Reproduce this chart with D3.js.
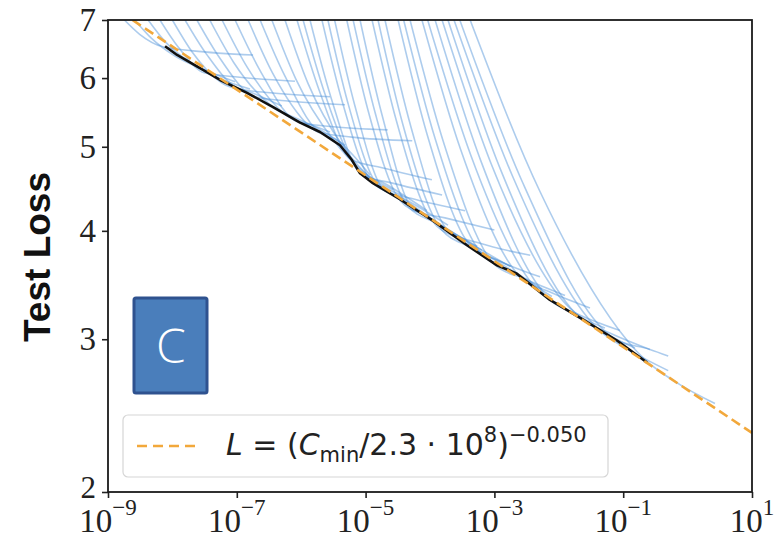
<!DOCTYPE html>
<html><head><meta charset="utf-8">
<script src="https://cdn.jsdelivr.net/npm/d3@7/dist/d3.min.js"></script>
<style>body{margin:0;background:#fff}svg{display:block}</style>
</head><body>
<svg id="chart" width="780" height="538"></svg>
<script>
// ---- data ----
const xTickExponents = [-9, -7, -5, -3, -1, 1];
const yTickValues = [2, 3, 4, 5, 6, 7];

// compute-efficient frontier (black)
const frontierC = [7.7e-9, 1.18e-8, 2.68e-8, 5.5e-8, 1.44e-7, 3.6e-7, 9.6e-7, 1.96e-6, 4.0e-6, 6.1e-6, 8.2e-6, 1.3e-5, 3.4e-5, 1.11e-4, 3.75e-4, 1.1e-3, 2.24e-3, 7.3e-3, 2.38e-2, 8.0e-2, 0.234];
const frontierL = [6.53, 6.38, 6.16, 5.97, 5.77, 5.56, 5.33, 5.20, 5.02, 4.83, 4.66, 4.54, 4.35, 4.11, 3.85, 3.65, 3.57, 3.33, 3.16, 2.99, 2.82];

// power-law fit (orange dashed), L = (C/2.3e8)^-0.050
const fitC = [2.4e-9, 10];
const fitL = [7.0, 2.34];
const fitLabel = { coef: "2.3", exp10: "8", power: "\u22120.050" };

// individual training runs (blue), [compute, loss]
const runs = [
  [[1.8e-9,7.0],[3.1e-9,6.74],[7.1e-9,6.52],[2.1e-8,6.45],[1.79e-7,6.38]],
  [[2.6e-9,7.0],[4.7e-9,6.67],[1.1e-8,6.36],[3.2e-8,6.13],[9.4e-8,5.94]],
  [[4.2e-9,7.0],[7.7e-9,6.61],[1.9e-8,6.25],[5.5e-8,5.99],[1.6e-7,5.83]],
  [[6.4e-9,7.0],[1.22e-8,6.52],[3.2e-8,6.08],[9.4e-8,6.02],[8.0e-7,5.95]],
  [[1.0e-8,7.0],[2.0e-8,6.44],[5.9e-8,5.92],[1.72e-7,5.77],[5.0e-7,5.57]],
  [[1.57e-8,7.0],[3.4e-8,6.39],[1.12e-7,5.83],[3.3e-7,5.77],[2.8e-6,5.71]],
  [[2.4e-8,7.0],[5.5e-8,6.32],[1.9e-7,5.71],[5.6e-7,5.65],[4.8e-6,5.59]],
  [[3.8e-8,7.0],[9.0e-8,6.25],[3.3e-7,5.59],[9.6e-7,5.37],[2.8e-6,5.20]],
  [[5.9e-8,7.0],[1.44e-7,6.18],[5.6e-7,5.45],[1.64e-6,5.27],[4.8e-6,5.02]],
  [[9.4e-8,7.0],[2.3e-7,6.12],[8.9e-7,5.34],[2.6e-6,5.28],[2.2e-5,5.23]],
  [[1.5e-7,7.0],[3.6e-7,6.08],[1.37e-6,5.27],[4.0e-6,5.06],[1.17e-5,4.64]],
  [[2.3e-7,7.0],[5.6e-7,6.03],[2.1e-6,5.19],[6.1e-6,5.13],[5.3e-5,5.08]],
  [[3.5e-7,7.0],[8.3e-7,5.98],[3.1e-6,5.10],[9.1e-6,4.68],[2.66e-5,4.46]],
  [[5.6e-7,7.0],[1.27e-6,5.92],[4.5e-6,5.00],[1.3e-5,4.58],[3.8e-5,4.39]],
  [[8.6e-7,7.0],[1.9e-6,5.81],[6.1e-6,4.83],[1.8e-5,4.73],[1.07e-4,4.58]],
  [[1.07e-6,7.0],[2.34e-6,5.75],[7.3e-6,4.73],[2.15e-5,4.52],[9.0e-5,4.22]],
  [[1.37e-6,7.0],[2.9e-6,5.70],[8.8e-6,4.64],[2.6e-5,4.54],[1.54e-4,4.40]],
  [[2.1e-6,7.0],[4.3e-6,5.65],[1.26e-5,4.55],[3.7e-5,4.36],[1.54e-4,4.05],[6.4e-4,3.80]],
  [[2.6e-6,7.0],[5.3e-6,5.62],[1.56e-5,4.51],[4.6e-5,4.33],[1.9e-4,4.06]],
  [[3.3e-6,7.0],[6.8e-6,5.58],[2.0e-5,4.45],[5.8e-5,4.35],[3.5e-4,4.22]],
  [[5.1e-6,7.0],[1.09e-5,5.51],[3.4e-5,4.34],[1.0e-4,4.14],[4.2e-4,3.87],[1.75e-3,3.64]],
  [[6.4e-6,7.0],[1.4e-5,5.48],[4.4e-5,4.28],[1.28e-4,4.08],[5.4e-4,3.84]],
  [[8.2e-6,7.0],[1.8e-5,5.44],[5.8e-5,4.22],[1.71e-4,4.14],[1.0e-3,4.01]],
  [[1.26e-5,7.0],[3.0e-5,5.36],[1.07e-4,4.11],[3.1e-4,3.90],[1.31e-3,3.66],[5.5e-3,3.43]],
  [[1.56e-5,7.0],[3.8e-5,5.30],[1.48e-4,4.02],[4.3e-4,3.83],[1.81e-3,3.64]],
  [[2.0e-5,7.0],[5.1e-5,5.26],[2.0e-4,3.99],[6.0e-4,3.87],[3.6e-3,3.75]],
  [[3.2e-5,7.0],[9.0e-5,5.17],[4.2e-4,3.85],[1.22e-3,3.69],[5.1e-3,3.54]],
  [[3.9e-5,7.0],[1.2e-4,5.11],[6.4e-4,3.76],[1.9e-3,3.59],[7.8e-3,3.36]],
  [[4.9e-5,7.0],[1.65e-4,5.04],[1.0e-3,3.66],[3.0e-3,3.52],[1.25e-2,3.37]],
  [[7.5e-5,7.0],[3.0e-4,4.96],[2.5e-3,3.54],[7.3e-3,3.40],[3.05e-2,3.26]],
  [[9.2e-5,7.0],[4.3e-4,4.89],[4.3e-3,3.44],[1.25e-2,3.25],[5.2e-2,3.09]],
  [[1.2e-4,7.0],[6.2e-4,4.81],[7.3e-3,3.33],[2.1e-2,3.20],[8.9e-2,3.07]],
  [[1.54e-4,7.0],[8.9e-4,4.78],[1.25e-2,3.30],[3.65e-2,3.10],[0.152,2.93]],
  [[1.9e-4,7.0],[1.27e-3,4.69],[2.1e-2,3.18],[6.2e-2,3.05],[0.26,2.92]],
  [[2.36e-4,7.0],[1.9e-3,4.63],[4.1e-2,3.08],[0.119,2.92],[0.50,2.76]],
  [[2.9e-4,7.0],[2.7e-3,4.56],[7.5e-2,3.00],[0.26,2.92],[0.50,2.87]],
  [[4.2e-4,7.0],[5.1e-3,4.44],[0.22,2.84],[0.76,2.66],[2.66,2.53]]
];

// ---- drawing ----
const svg = d3.select("#chart");
const M = { l: 108, r: 752, t: 20, b: 492 };
const x = d3.scaleLog().domain([1e-9, 1e1]).range([M.l, M.r]);
const y = d3.scaleLog().domain([2, 7]).range([M.b, M.t]);

svg.append("defs").append("clipPath").attr("id", "plotclip")
  .append("rect").attr("x", M.l).attr("y", M.t).attr("width", M.r - M.l).attr("height", M.b - M.t);

const plot = svg.append("g").attr("clip-path", "url(#plotclip)");

const runLine = d3.line().x(d => x(d[0])).y(d => y(d[1])).curve(d3.curveMonotoneX);
plot.selectAll("path.run").data(runs).join("path")
  .attr("class", "run")
  .attr("d", runLine)
  .attr("fill", "none")
  .attr("stroke", "#4a8ed6")
  .attr("stroke-opacity", 0.45)
  .attr("stroke-width", 1.6);

const frontier = frontierC.map((c, i) => [c, frontierL[i]]);
plot.append("path")
  .attr("d", d3.line().x(d => x(d[0])).y(d => y(d[1]))(frontier))
  .attr("fill", "none").attr("stroke", "#111").attr("stroke-width", 2.6)
  .attr("stroke-linejoin", "round");

const fit = fitC.map((c, i) => [c, fitL[i]]);
plot.append("path")
  .attr("d", d3.line().x(d => x(d[0])).y(d => y(d[1]))(fit))
  .attr("fill", "none").attr("stroke", "#f2a83b").attr("stroke-width", 2.6)
  .attr("stroke-dasharray", "10,5");

// axes
const xAxis = d3.axisBottom(x).tickValues(xTickExponents.map(e => Math.pow(10, e))).tickSize(6).tickFormat("");
const gx = svg.append("g").attr("transform", `translate(0,${M.b})`).call(xAxis);
const yAxis = d3.axisLeft(y).tickValues(yTickValues).tickSize(6).tickFormat("");
const gy = svg.append("g").attr("transform", `translate(${M.l},0)`).call(yAxis);
[gx, gy].forEach(g => {
  g.select(".domain").remove();
  g.selectAll(".tick line").attr("stroke", "#222").attr("stroke-width", 1.6);
});

// frame
svg.append("rect").attr("x", M.l).attr("y", M.t).attr("width", M.r - M.l).attr("height", M.b - M.t)
  .attr("fill", "none").attr("stroke", "#1a1a1a").attr("stroke-width", 1.8);

const serif = "'Liberation Serif','DejaVu Serif',serif";
xTickExponents.forEach(e => {
  const t = svg.append("text").attr("x", x(Math.pow(10, e))).attr("y", 532)
    .attr("text-anchor", "middle").attr("font-family", serif).attr("font-size", 33).attr("fill", "#222");
  t.append("tspan").text("10");
  t.append("tspan").attr("font-size", 23).attr("dy", -17).text(e < 0 ? "\u2212" + Math.abs(e) : String(e));
});
yTickValues.forEach(v => {
  svg.append("text").attr("x", 96).attr("y", y(v)).attr("dy", v === 2 ? "0.2em" : "0.34em")
    .attr("text-anchor", "end").attr("font-family", serif).attr("font-size", v === 2 ? 31 : 33).attr("fill", "#222")
    .text(v);
});

// y label
svg.append("text").attr("transform", "translate(50,257) rotate(-90)")
  .attr("text-anchor", "middle").attr("font-family", "'Liberation Sans',Arial,sans-serif")
  .attr("font-weight", "bold").attr("font-size", 37).attr("fill", "#111").text("Test Loss");

// legend
svg.append("rect").attr("x", 123).attr("y", 415).attr("width", 485).attr("height", 62).attr("rx", 5)
  .attr("fill", "#fff").attr("fill-opacity", 0.85).attr("stroke", "#d6d6d6").attr("stroke-width", 1.2);
svg.append("line").attr("x1", 137).attr("x2", 201).attr("y1", 446).attr("y2", 446)
  .attr("stroke", "#f2a83b").attr("stroke-width", 2.6).attr("stroke-dasharray", "10,6");
const lt = svg.append("text").attr("x", 226).attr("y", 455)
  .attr("font-family", "'DejaVu Sans',sans-serif").attr("font-size", 30).attr("fill", "#222");
lt.append("tspan").attr("font-style", "italic").text("L");
lt.append("tspan").text(" = (");
lt.append("tspan").attr("font-style", "italic").text("C");
lt.append("tspan").attr("font-size", 21).attr("dy", 7).text("min");
lt.append("tspan").attr("dy", -7).text("/" + fitLabel.coef + " \u00b7 10");
lt.append("tspan").attr("font-size", 21).attr("dy", -13).text(fitLabel.exp10);
lt.append("tspan").attr("dy", 13).text(")");
lt.append("tspan").attr("font-size", 21).attr("dy", -13).text(fitLabel.power);

// panel label box "C"
svg.append("rect").attr("x", 134).attr("y", 298).attr("width", 73).attr("height", 95).attr("rx", 2)
  .attr("fill", "#4a7ebb").attr("stroke", "#2f528f").attr("stroke-width", 3);
svg.append("text").attr("x", 171).attr("y", 346).attr("dy", "0.36em").attr("text-anchor", "middle")
  .attr("font-family", "'Open Sans',sans-serif").attr("font-weight", 300).attr("font-size", 48)
  .attr("fill", "#fff").text("C");
</script>
</body></html>
